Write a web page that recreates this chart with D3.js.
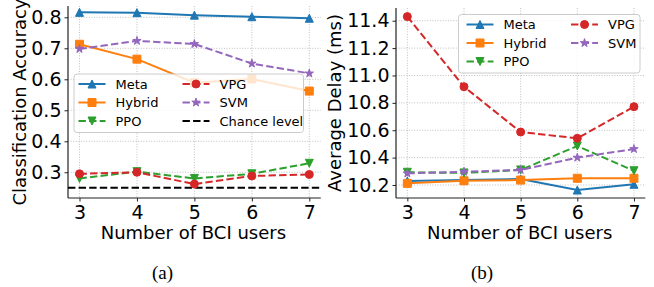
<!DOCTYPE html>
<html lang="en">
<head>
<meta charset="UTF-8">
<title>BCI users</title>
<style>
  body { margin: 0; background: #fff; }
  text { fill: #000; }
</style>
</head>
<body>
<svg width="654" height="287"></svg>
<script src="https://cdn.jsdelivr.net/npm/d3@7"></script>
<script>
// ---- data ----
const users = [3, 4, 5, 6, 7];

const accMeta   = [0.816, 0.815, 0.807, 0.802, 0.797];
const accHybrid = [0.713, 0.665, 0.589, 0.601, 0.562];
const accPPO    = [0.280, 0.302, 0.280, 0.295, 0.329];
const accVPG    = [0.295, 0.300, 0.262, 0.288, 0.293];
const accSVM    = [0.698, 0.724, 0.714, 0.651, 0.619];
const chanceLevel = 0.25;

const delayMeta   = [10.229, 10.236, 10.244, 10.163, 10.205];
const delayHybrid = [10.212, 10.231, 10.236, 10.249, 10.249];
const delayPPO    = [10.293, 10.288, 10.310, 10.485, 10.304];
const delayVPG    = [11.430, 10.918, 10.587, 10.541, 10.772];
const delaySVM    = [10.285, 10.297, 10.310, 10.400, 10.463];

const accTicks = [0.3, 0.4, 0.5, 0.6, 0.7, 0.8];
const delayTicks = [10.2, 10.4, 10.6, 10.8, 11.0, 11.2, 11.4];

const styles = {
    Meta:   { color: "#1f77b4", marker: "^", dash: null },
    Hybrid: { color: "#ff7f0e", marker: "s", dash: null },
    PPO:    { color: "#2ca02c", marker: "v", dash: "7.4,3.2" },
    VPG:    { color: "#d62728", marker: "o", dash: "7.4,3.2" },
    SVM:    { color: "#9467bd", marker: "*", dash: "7.4,3.2" }
};

const svg = d3.select("svg");
const ms = 8; // marker size
const sans = "DejaVu Sans, sans-serif";

// matplotlib-like marker paths
function markerPath(m, s) {
    const h = s / 2;
    if (m === "^") return `M0,${-h}L${h},${h}L${-h},${h}Z`;
    if (m === "v") return `M0,${h}L${h},${-h}L${-h},${-h}Z`;
    if (m === "s") return `M${-h},${-h}H${h}V${h}H${-h}Z`;
    if (m === "o") return d3.arc()({ innerRadius: 0, outerRadius: h, startAngle: 0, endAngle: 2 * Math.PI });
    if (m === "*") {
        const pts = [];
        for (let i = 0; i < 10; i++) {
            const r = i % 2 === 0 ? h * 1.1 : h * 1.1 * 0.382;
            const a = -Math.PI / 2 + i * Math.PI / 5;
            pts.push([r * Math.cos(a), r * Math.sin(a)]);
        }
        return "M" + pts.map(p => p.join(",")).join("L") + "Z";
    }
}

function drawPanel(cfg) {
    const g = svg.append("g");
    const x = d3.scaleLinear().domain([2.8, 7.2]).range([cfg.left, cfg.right]);
    const y = d3.scaleLinear().domain(cfg.yDomain).range([cfg.bottom, cfg.top]);

    // grid
    g.append("g").selectAll("line").data(users).join("line")
        .attr("x1", d => x(d)).attr("x2", d => x(d))
        .attr("y1", cfg.top).attr("y2", cfg.bottom)
        .attr("stroke", "#b0b0b0").attr("stroke-width", 0.8).attr("stroke-dasharray", "1,1.6");
    g.append("g").selectAll("line").data(cfg.yTicks).join("line")
        .attr("x1", cfg.left).attr("x2", cfg.right)
        .attr("y1", d => y(d)).attr("y2", d => y(d))
        .attr("stroke", "#b0b0b0").attr("stroke-width", 0.8).attr("stroke-dasharray", "1,1.6");

    // axes
    const xAxis = g.append("g").attr("transform", `translate(0,${cfg.bottom})`)
        .call(d3.axisBottom(x).tickValues(users).tickSize(3.5).tickPadding(4).tickFormat(d3.format("d")));
    const yAxis = g.append("g").attr("transform", `translate(${cfg.left},0)`)
        .call(d3.axisLeft(y).tickValues(cfg.yTicks).tickSize(3.5).tickPadding(3).tickFormat(cfg.fmt));
    [xAxis, yAxis].forEach(a => {
        a.select(".domain").attr("stroke", "#222").attr("stroke-width", 1.2);
        a.selectAll(".tick line").attr("stroke", "#222");
        a.selectAll(".tick text").attr("font-size", 19).style("font-family", sans).attr("fill", "#000");
    });
    xAxis.select(".domain").attr("d", `M${cfg.left},0H${cfg.right}`);
    yAxis.select(".domain").attr("d", `M0,${cfg.top}V${cfg.bottom}`);

    // chance level
    if (cfg.chance != null) {
        g.append("line")
            .attr("x1", cfg.left).attr("x2", cfg.right)
            .attr("y1", y(cfg.chance)).attr("y2", y(cfg.chance))
            .attr("stroke", "#000").attr("stroke-width", 2).attr("stroke-dasharray", "7.4,3.2");
    }

    // series
    const line = d3.line().x((d, i) => x(users[i])).y(d => y(d));
    cfg.series.forEach(s => {
        const st = styles[s.name];
        g.append("path").datum(s.values)
            .attr("d", line).attr("fill", "none")
            .attr("stroke", st.color).attr("stroke-width", 2)
            .attr("stroke-dasharray", st.dash);
        g.append("g").selectAll("path").data(s.values).join("path")
            .attr("transform", (d, i) => `translate(${x(users[i])},${y(d)})`)
            .attr("d", markerPath(st.marker, ms))
            .attr("fill", st.color).attr("stroke", st.color).attr("stroke-width", 1);
    });

    // axis labels
    g.append("text")
        .attr("x", (cfg.left + cfg.right) / 2 - 1).attr("y", 239)
        .attr("text-anchor", "middle").attr("font-size", 18).style("font-family", sans)
        .text("Number of BCI users");
    g.append("text")
        .attr("transform", `translate(${cfg.yLabelX},${(cfg.top + cfg.bottom) / 2}) rotate(-90)`)
        .attr("text-anchor", "middle").attr("font-size", 18).style("font-family", sans)
        .text(cfg.yLabel);

    // legend
    const L = cfg.legend;
    g.append("rect")
        .attr("x", L.x).attr("y", L.y).attr("width", L.w).attr("height", L.h)
        .attr("rx", 3).attr("fill", "#fff").attr("fill-opacity", 0.8)
        .attr("stroke", "#cccccc").attr("stroke-width", 1);
    L.items.forEach((it, k) => {
        const col = Math.floor(k / 3), row = k % 3;
        const hx = L.x + L.colX[col], hy = L.y + 10 + row * 18.5;
        const st = it === "Chance level" ? { color: "#000", dash: "7.4,3.2", marker: null } : styles[it];
        g.append("line")
            .attr("x1", hx).attr("x2", hx + 27).attr("y1", hy).attr("y2", hy)
            .attr("stroke", st.color).attr("stroke-width", 2).attr("stroke-dasharray", st.dash);
        if (st.marker) {
            g.append("path").attr("transform", `translate(${hx + 13.5},${hy})`)
                .attr("d", markerPath(st.marker, ms))
                .attr("fill", st.color).attr("stroke", st.color).attr("stroke-width", 1);
        }
        g.append("text").attr("x", hx + 37).attr("y", hy).attr("dy", "0.36em")
            .attr("font-size", 13).style("font-family", sans).text(it);
    });

    // caption
    svg.append("text")
        .attr("x", cfg.captionX).attr("y", 279)
        .attr("text-anchor", "middle")
        .style("font-family", "'Liberation Serif', 'Times New Roman', serif")
        .attr("font-size", 19)
        .text(cfg.caption);
}

drawPanel({
    left: 68, right: 320.8, top: 6, bottom: 198,
    yDomain: [0.217, 0.8365], yTicks: accTicks, fmt: d3.format(".1f"),
    yLabel: "Classification Accuracy", yLabelX: 26,
    chance: chanceLevel,
    series: [
        { name: "Meta", values: accMeta },
        { name: "Hybrid", values: accHybrid },
        { name: "PPO", values: accPPO },
        { name: "VPG", values: accVPG },
        { name: "SVM", values: accSVM }
    ],
    legend: { x: 74, y: 74, w: 229.5, h: 58.5, colX: [4.5, 108.5],
              items: ["Meta", "Hybrid", "PPO", "VPG", "SVM", "Chance level"] },
    caption: "(a)", captionX: 162.5
});

drawPanel({
    left: 396, right: 645.3, top: 8, bottom: 198,
    yDomain: [10.105, 11.493], yTicks: delayTicks, fmt: d3.format(".1f"),
    yLabel: "Average Delay (ms)", yLabelX: 341,
    chance: null,
    series: [
        { name: "Meta", values: delayMeta },
        { name: "Hybrid", values: delayHybrid },
        { name: "PPO", values: delayPPO },
        { name: "VPG", values: delayVPG },
        { name: "SVM", values: delaySVM }
    ],
    legend: { x: 458.5, y: 14.5, w: 181.5, h: 58.5, colX: [8, 112.5],
              items: ["Meta", "Hybrid", "PPO", "VPG", "SVM"] },
    caption: "(b)", captionX: 482
});
</script>
</body>
</html>
